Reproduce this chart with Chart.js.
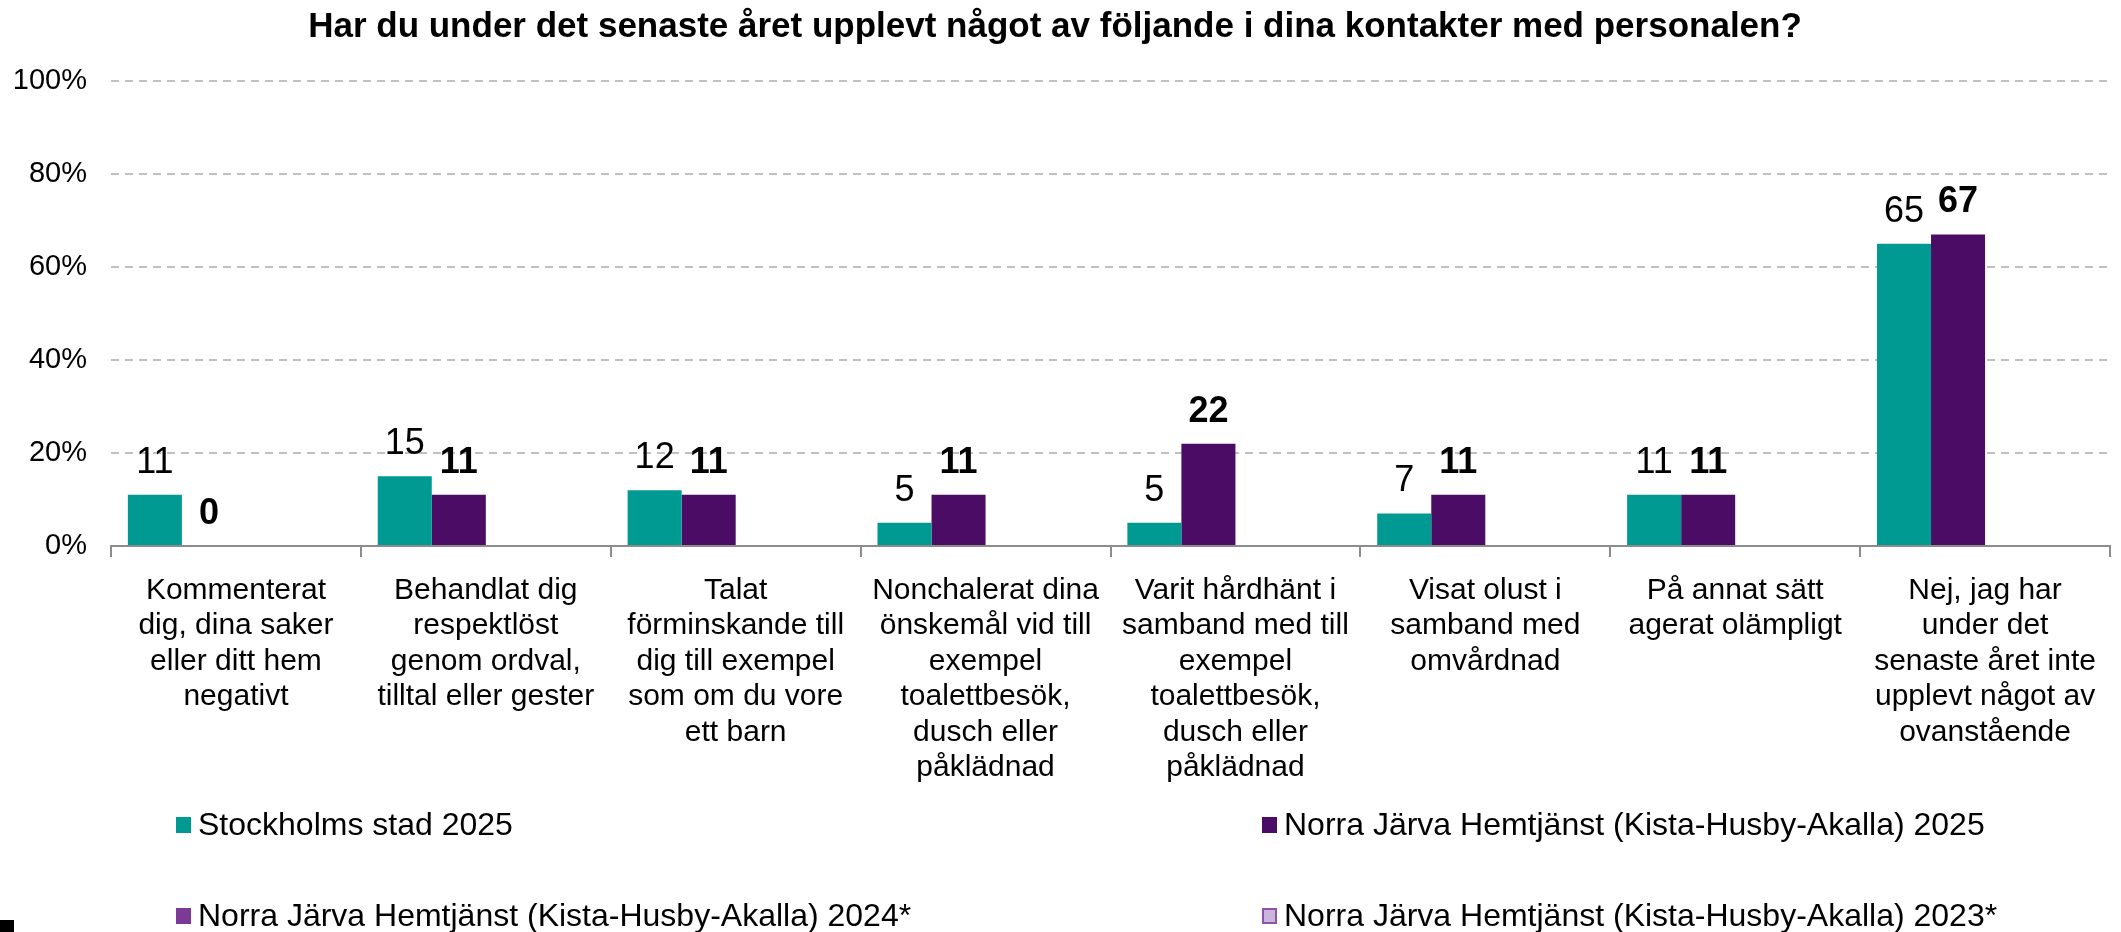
<!DOCTYPE html>
<html>
<head>
<meta charset="utf-8">
<script src="https://cdn.jsdelivr.net/npm/chart.js@4"></script>
<style>
  html, body { margin: 0; padding: 0; background: #fff; }
  #wrap { position: relative; width: 2121px; height: 932px; }
  #corner { position: absolute; left: 0; bottom: 0; width: 14px; height: 12px; background: #000; }
</style>
</head>
<body>
<div id="wrap">
  <canvas id="chart" width="2121" height="932"></canvas>
  <div id="corner"></div>
</div>
<script>
const FONT = "'Liberation Sans', Arial, sans-serif";

const categories = [
  ["Kommenterat", "dig, dina saker", "eller ditt hem", "negativt"],
  ["Behandlat dig", "respektlöst", "genom ordval,", "tilltal eller gester"],
  ["Talat", "förminskande till", "dig till exempel", "som om du vore", "ett barn"],
  ["Nonchalerat dina", "önskemål vid till", "exempel", "toalettbesök,", "dusch eller", "påklädnad"],
  ["Varit hårdhänt i", "samband med till", "exempel", "toalettbesök,", "dusch eller", "påklädnad"],
  ["Visat olust i", "samband med", "omvårdnad"],
  ["På annat sätt", "agerat olämpligt"],
  ["Nej, jag har", "under det", "senaste året inte", "upplevt något av", "ovanstående"],
];

const seriesNames = [
  "Stockholms stad 2025",
  "Norra Järva Hemtjänst (Kista-Husby-Akalla) 2025",
  "Norra Järva Hemtjänst (Kista-Husby-Akalla) 2024*",
  "Norra Järva Hemtjänst (Kista-Husby-Akalla) 2023*",
];

const stockholm2025 = [11, 15, 12, 5, 5, 7, 11, 65];
const norraJarva2025 = [0, 11, 11, 11, 22, 11, 11, 67];
const norraJarva2024 = [null, null, null, null, null, null, null, null];
const norraJarva2023 = [null, null, null, null, null, null, null, null];

const yTicks = [0, 20, 40, 60, 80, 100];

const fills = ["#009A92", "#4A0C64", "#7A3A96", "#CCB5DB"];
const edges = ["#009A92", "#4A0C64", "#7A3A96", "#8E54AA"];

// value labels above bars (2025 own unit in bold)
const valueLabels = {
  id: "valueLabels",
  afterDatasetsDraw(chart) {
    const ctx = chart.ctx;
    chart.data.datasets.forEach((ds, i) => {
      const meta = chart.getDatasetMeta(i);
      meta.data.forEach((bar, j) => {
        const v = ds.data[j];
        if (v === null || v === undefined) return;
        ctx.save();
        ctx.font = (i === 1 ? "bold " : "") + "36px " + FONT;
        ctx.fillStyle = "#000";
        ctx.textAlign = "center";
        ctx.textBaseline = "middle";
        ctx.fillText(String(v), bar.x, bar.y - 32);
        ctx.restore();
      });
    });
  },
};

// two-column legend under the axis labels
const gridLegend = {
  id: "gridLegend",
  afterDraw(chart, args, opts) {
    const ctx = chart.ctx;
    chart.data.datasets.forEach((ds, i) => {
      const x = opts.cols[i % 2];
      const y = opts.rows[Math.floor(i / 2)];
      ctx.save();
      ctx.fillStyle = ds.backgroundColor;
      ctx.fillRect(x, y - 8, 15, 16);
      if (i === 3) {
        ctx.strokeStyle = ds.borderColor;
        ctx.lineWidth = 2;
        ctx.strokeRect(x + 1, y - 7, 13, 14);
      }
      ctx.fillStyle = "#000";
      ctx.font = "32px " + FONT;
      ctx.textBaseline = "middle";
      ctx.fillText(ds.label, x + 22, y + 1);
      ctx.restore();
    });
  },
};

const allSeries = [stockholm2025, norraJarva2025, norraJarva2024, norraJarva2023];

const config = {
  type: "bar",
  data: {
    labels: categories,
    datasets: allSeries.map((d, i) => ({
      label: seriesNames[i],
      data: d,
      backgroundColor: fills[i],
      borderColor: edges[i],
      borderWidth: 0,
      categoryPercentage: 0.865,
      barPercentage: 1.0,
    })),
  },
  options: {
    responsive: false,
    animation: false,
    layout: { padding: { left: 0, right: 11, top: 0, bottom: 0 } },
    scales: {
      x: {
        grid: {
          drawOnChartArea: false,
          drawTicks: true,
          tickLength: 11,
          color: "#8c8c8c",
          lineWidth: 2,
        },
        border: { color: "#8c8c8c", width: 2 },
        ticks: {
          autoSkip: false,
          maxRotation: 0,
          minRotation: 0,
          color: "#000",
          padding: 16,
          font: { family: FONT, size: 30, lineHeight: 1.18 },
        },
        afterFit(scale) {
          scale.height = 386;
        },
      },
      y: {
        min: 0,
        max: 100,
        afterBuildTicks(scale) {
          scale.ticks = yTicks.map((v) => ({ value: v }));
        },
        grid: {
          color: "#c0c0c0",
          lineWidth: 2,
          drawTicks: false,
        },
        border: { display: false, dash: [8, 6] },
        ticks: {
          color: "#000",
          padding: 24,
          font: { family: FONT, size: 29 },
          callback: (v) => v + "%",
        },
        afterFit(scale) {
          scale.width = 111;
        },
      },
    },
    plugins: {
      legend: { display: false },
      tooltip: { enabled: false },
      title: {
        display: true,
        text: "Har du under det senaste året upplevt något av följande i dina kontakter med personalen?",
        color: "#000",
        font: { family: FONT, size: 35, weight: "bold", lineHeight: 1.2 },
        padding: { top: 6, bottom: 33 },
      },
      gridLegend: {
        cols: [176, 1262],
        rows: [825, 916],
      },
    },
  },
  plugins: [valueLabels, gridLegend],
};

new Chart(document.getElementById("chart"), config);
</script>
</body>
</html>
